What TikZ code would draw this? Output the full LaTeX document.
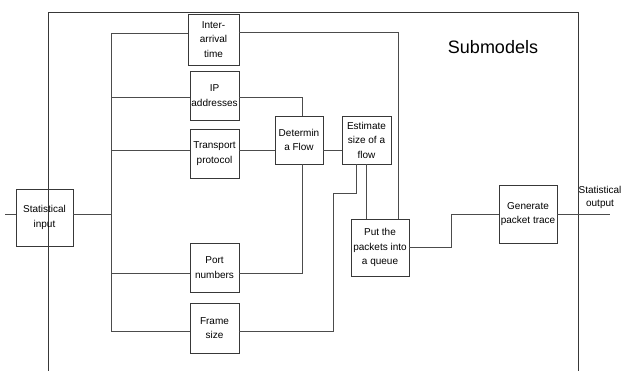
\documentclass[tikz,border=0pt]{standalone}
\usepackage{fontspec}
\setmainfont{Liberation Sans}
\usepackage{tikz}
\usepackage{xcolor}
\definecolor{boxline}{gray}{0.22}
\definecolor{wire}{gray}{0.30}
\newcommand{\submodel}[5] {
    \node[box,minimum width={#3},minimum height={#4}] (#1) at (#2) {#5};
}

\begin{document}
\begin{tikzpicture}[x=1pt,y=-1pt,
        box/.style={draw=boxline,line width=0.8pt,inner sep=0pt,align=center,
            font=\fontsize{10}{14.5}\selectfont},
        wire/.style={draw=wire,line width=0.8pt},
        title/.style={font=\fontsize{18}{20}\selectfont}
    ]
        \useasboundingbox (0,0) rectangle (623,370);
        % frame round the submodels
        \draw[wire,draw=boxline] (48,372) -- (48,12) -- (578,12) -- (578,372);
        \node[title] (head) at (493,47) {Submodels};

        \submodel{input}{44.5,217.5}{57}{57}{Statistical\\input}
        \submodel{arrival}{213.5,39.5}{51}{51}{Inter-\\arrival\\time}
        \submodel{ip}{214.5,95.5}{49}{49}{IP\\addresses}
        \submodel{proto}{214.5,153.5}{49}{49}{Transport\\protocol}
        \submodel{port}{214.5,267.5}{49}{49}{Port\\numbers}
        \submodel{frame}{214.5,328}{49}{50}{Frame\\size}
        \submodel{flow}{299,140}{48}{48}{Determin\\a Flow}
        \submodel{size}{366.5,140}{49}{48}{Estimate\\size of a\\flow}
        \submodel{queue}{380,247.5}{58}{57}{Put the\\packets into\\a queue}
        \submodel{trace}{528,214}{58}{58}{Generate\\packet trace}
        \node[font=\fontsize{10}{13}\selectfont,align=center,inner sep=0pt] (out) at (600,197) {Statistical\\output};

        \coordinate (inL) at (5,214);
        \coordinate (busT) at (111,33);
        \coordinate (busB) at (111,331);
        \coordinate (outR) at (610,214);

        % input side
        \draw[wire] (inL) -- (inL -| input.west);
        \draw[wire] (input.east |- inL) -- (inL -| busT);
        \draw[wire] (busT) -- (busB);
        \foreach \n/\y in {arrival/33,ip/97,proto/150,port/273,frame/331}
            \draw[wire] (111,\y) -- (\n.west |- 0,\y);

        % to the flow boxes
        \draw[wire] (arrival.east |- 0,32) -- (398,32) -- (398,0 |- queue.north);
        \draw[wire] (ip.east |- 0,97) -- (302,97) -- (302,0 |- flow.north);
        \draw[wire] (proto.east |- 0,150) -- (flow.west |- 0,150);
        \draw[wire] (port.east |- 0,273) -- (302,273) -- (302,0 |- flow.south);
        \draw[wire] (flow.east |- 0,150) -- (size.west |- 0,150);
        \draw[wire] (frame.east |- 0,331) -- (333,331) -- (333,193) -- (356,193) -- (356,0 |- size.south);
        \draw[wire] (366,0 |- size.south) -- (366,0 |- queue.north);

        % output side
        \draw[wire] (queue.east |- 0,247) -- (451,247) -- (451,214) -- (trace.west |- 0,214);
        \draw[wire] (trace.east |- outR) -- (outR);
\end{tikzpicture}
\end{document}
